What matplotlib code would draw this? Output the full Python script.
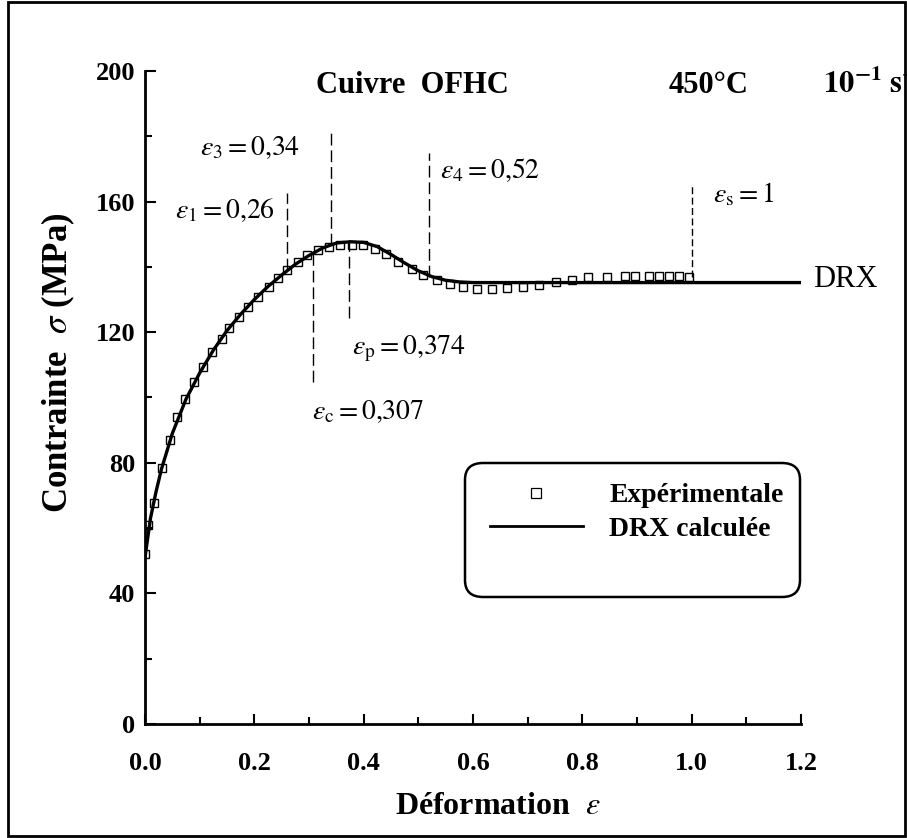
import numpy as np
import matplotlib.pyplot as plt
from matplotlib.patches import FancyBboxPatch, Rectangle
from matplotlib.ticker import MultipleLocator, FormatStrFormatter

plt.rcParams['font.family'] = ['Liberation Serif', 'DejaVu Serif']
plt.rcParams['mathtext.fontset'] = 'stix'

eps_exp = [0.0, 0.005, 0.017, 0.031, 0.045, 0.058, 0.073, 0.090, 0.107, 0.122,
           0.140, 0.154, 0.172, 0.189, 0.207, 0.226, 0.244, 0.260, 0.279, 0.296,
           0.317, 0.337, 0.357, 0.378, 0.399, 0.421, 0.440, 0.463, 0.488, 0.509,
           0.534, 0.558, 0.582, 0.608, 0.635, 0.662, 0.691, 0.721, 0.752, 0.782,
           0.811, 0.845, 0.878, 0.896, 0.922, 0.941, 0.959, 0.977, 0.996]
sig_exp = [52, 61, 67.6, 78.3, 87, 93.9, 99.5, 104.8, 109.4, 113.8,
           117.8, 121.2, 124.7, 127.8, 130.9, 133.9, 136.5, 139, 141.6, 143.6,
           145.2, 146.2, 146.7, 146.7, 146.7, 145.4, 143.9, 141.6, 139.3, 137.5,
           136, 134.8, 133.9, 133.1, 133.1, 133.4, 133.7, 134.5, 135.5, 136,
           136.8, 137, 137.2, 137.3, 137.3, 137.2, 137.2, 137.2, 137]

# Calculated DRX curve
eps_drx = [0.0, 0.01, 0.02, 0.03, 0.05, 0.075, 0.10, 0.125, 0.15, 0.175, 0.20,
           0.225, 0.25, 0.275, 0.30, 0.325, 0.35, 0.375, 0.40, 0.425, 0.45,
           0.475, 0.50, 0.525, 0.55, 0.575, 0.60, 0.70, 0.80, 1.0, 1.2]
sig_drx = [51, 63, 71, 78, 89, 99.5, 107.5, 114.5, 120.5, 125.5, 130,
           134, 137.5, 140.8, 143.5, 145.8, 147.3, 147.7, 147.5, 146.2, 143.8,
           141.2, 138.8, 137, 135.9, 135.4, 135.2, 135.2, 135.2, 135.2, 135.2]

# Characteristic strains (dashed markers)
crit_eps = [0.26, 0.307, 0.34, 0.374, 0.52, 1.0]
crit_lo = [139, 104.8, 146.7, 124.3, 137, 137]
crit_hi = [162.7, 144.3, 182.0, 147.7, 175, 165]
crit_labels = [r'$\varepsilon_1 = 0{,}26$', r'$\varepsilon_\mathrm{c} = 0{,}307$',
               r'$\varepsilon_3 = 0{,}34$', r'$\varepsilon_\mathrm{p} = 0{,}374$',
               r'$\varepsilon_4 = 0{,}52$', r'$\varepsilon_\mathrm{s} = 1$']
label_x = [0.055, 0.306, 0.100, 0.379, 0.540, 1.039]
label_y = [155, 93.4, 174.3, 113.3, 167.2, 159.7]

fig = plt.figure(figsize=(9.07, 8.38), dpi=100)
ax = fig.add_axes([145/907, 114/838, 656/907, 653/838])

ax.plot(eps_drx, sig_drx, color='black', lw=2.4, zorder=3)
ax.plot(eps_exp, sig_exp, ls='none', marker='s', ms=5.5, mfc='none',
        mec='black', mew=1.0, zorder=4)

for i in range(len(crit_eps)):
    dash = (0, (5, 2.5)) if crit_eps[i] == 1.0 else (0, (8.5, 3.5))
    ax.plot([crit_eps[i], crit_eps[i]], [crit_lo[i], crit_hi[i]],
            color='black', lw=1.0, ls=dash, zorder=2)
    ax.text(label_x[i], label_y[i], crit_labels[i], fontsize=20,
            ha='left', va='baseline')

ax.text(1.222, 133.8, 'DRX', fontsize=22, ha='left', va='baseline', clip_on=False)

# header line
ax.text(0.49, 193.3, 'Cuivre  OFHC', fontsize=22, fontweight='bold',
        ha='center', va='baseline', clip_on=False)
ax.text(1.03, 193.3, '450°C', fontsize=22, fontweight='bold',
        ha='center', va='baseline', clip_on=False)
ax.text(1.24, 193.3, r'$\mathbf{10^{-1}\ s^{-1}}$', fontsize=22,
        ha='left', va='baseline', clip_on=False)

ax.set_xlim(0, 1.2)
ax.set_ylim(0, 200)
for s in ['top', 'right']:
    ax.spines[s].set_visible(False)
for s in ['left', 'bottom']:
    ax.spines[s].set_linewidth(2)

ax.xaxis.set_major_locator(MultipleLocator(0.2))
ax.xaxis.set_minor_locator(MultipleLocator(0.1))
ax.xaxis.set_major_formatter(FormatStrFormatter('%.1f'))
ax.yaxis.set_major_locator(MultipleLocator(40))
ax.yaxis.set_minor_locator(MultipleLocator(20))
ax.tick_params(which='both', direction='in', width=1.5, labelsize=19)
ax.tick_params(axis='x', which='major', length=7, pad=20)
ax.tick_params(axis='x', which='minor', length=5)
ax.tick_params(axis='y', which='major', length=8, pad=7)
ax.tick_params(axis='y', which='minor', length=5)
for lab in ax.get_xticklabels() + ax.get_yticklabels():
    lab.set_fontweight('bold')

ax.set_xlabel(r'Déformation  $\varepsilon$', fontsize=23, fontweight='bold')
ax.xaxis.set_label_coords(0.538, -0.104)
ax.set_ylabel(r'Contrainte  $\sigma$ (MPa)', fontsize=25, fontweight='bold')
ax.yaxis.set_label_coords(-0.104, 0.553)

# legend with its own rounded box
box = FancyBboxPatch((465/907, 1 - 597/838), 335/907, 134/838,
                     boxstyle='round,pad=0,rounding_size=0.02',
                     transform=fig.transFigure, fc='white', ec='black', lw=1.8,
                     zorder=5, clip_on=False)
ax.add_patch(box)
h1, = ax.plot([], [], ls='none', marker='s', ms=6.5, mfc='none', mec='black', mew=0.9)
h2, = ax.plot([], [], color='black', lw=2)
leg = ax.legend([h1, h2], ['Expérimentale', 'DRX calculée'],
                loc='upper left', bbox_to_anchor=(476/907, 1 - 469/838),
                bbox_transform=fig.transFigure, frameon=False,
                prop={'size': 20, 'weight': 'bold'}, handlelength=3.35,
                handletextpad=0.95, labelspacing=0.3, borderpad=0)
leg.set_zorder(10)

# outer frame around the figure
fig.add_artist(Rectangle((8/907, 2/838), 897/907, 834/838, transform=fig.transFigure,
                         fill=False, ec='black', lw=2))

fig.savefig('out.png', dpi=100)
